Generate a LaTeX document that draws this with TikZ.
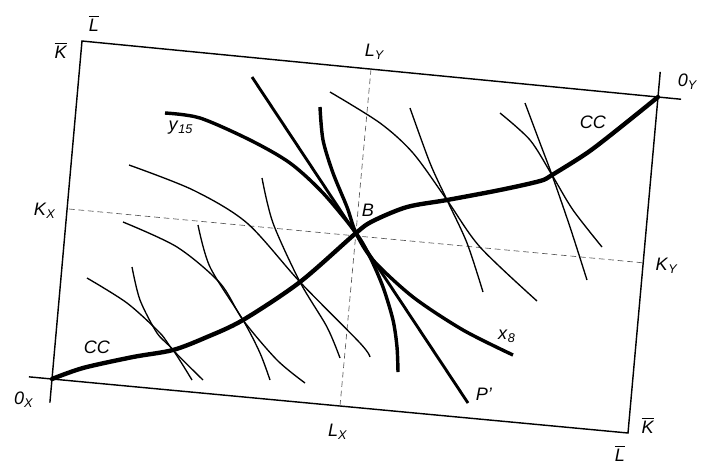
\documentclass[tikz,border=0pt]{standalone}
\usepackage{fontspec}
\setmainfont{Liberation Sans}
\usetikzlibrary{calc}

\newcommand{\sublbl}[2]{\textit{#1}\textsubscript{\textit{#2}}}
\newcommand{\barlbl}[1]{$\overline{\mbox{\textit{#1}}}$}

\begin{document}
\begin{tikzpicture}[x=0.0185cm, y=-0.0185cm, font=\fontsize{9.5}{11}\selectfont,
  box/.style={line width=0.75pt},
  iso/.style={line width=0.7pt},
  isothick/.style={line width=1.8pt},
  ccurve/.style={line width=2.3pt, line cap=round},
  guide/.style={line width=0.35pt, gray!70!black, dash pattern=on 3pt off 2pt}]
  \useasboundingbox (0,0) rectangle (703,473);

  % 盒子四角
  \coordinate (OX) at (52,379);
  \coordinate (OY) at (658,97);
  \coordinate (TL) at (82,41);
  \coordinate (BR) at (628,433);
  \coordinate (B) at (356,233);
  % 边上的点
  \coordinate (KX) at (69,209);
  \coordinate (KY) at (645,263);
  \coordinate (LY) at (371,69);
  \coordinate (LX) at (340,406);

  \draw[box] (TL) -- (OY) -- (BR) -- (OX) -- cycle;
  % 原点处延长
  \draw[box] (OX) -- ($(OX)!-0.04!(BR)$);
  \draw[box] (OX) -- ($(OX)!-0.07!(TL)$);
  \draw[box] (OY) -- ($(OY)!-0.04!(TL)$);
  \draw[box] (OY) -- ($(OY)!-0.075!(BR)$);

  % 虚线 K_X K_Y, L_X L_Y
  \draw[guide] (KX) -- (KY);
  \draw[guide] (LY) -- (LX);

  % 等产量线对
  \draw[iso] plot[smooth] coordinates {(87,278) (127,303) (160,333) (173,350) (203,380)};
  \draw[iso] plot[smooth] coordinates {(132,267) (140,300) (157,333) (173,350) (192,380)};
  \draw[iso] plot[smooth] coordinates {(123,222) (177,247) (220,283) (243,320) (277,360) (305,383)};
  \draw[iso] plot[smooth] coordinates {(198,225) (210,267) (243,320) (260,353) (270,380)};
  \draw[iso] plot[smooth] coordinates {(129,165) (193,190) (247,223) (300,282) (360,343) (370,357)};
  \draw[iso] plot[smooth] coordinates {(262,178) (273,223) (300,282) (327,327) (340,358)};
  \draw[iso] plot[smooth] coordinates {(330,92) (380,123) (413,153) (447,200) (480,247) (537,301)};
  \draw[iso] plot[smooth] coordinates {(410,108) (430,163) (447,200) (467,243) (483,292)};
  \draw[iso] plot[smooth] coordinates {(500,113) (530,140) (552,175) (573,210) (602,247)};
  \draw[iso] plot[smooth] coordinates {(525,103) (540,143) (552,175) (570,227) (587,280)};

  % 过 B 的 y_15, x_8 和 P'
  \draw[isothick] plot[smooth] coordinates {(165,113) (200,118) (250,140) (290,163) (323,193) (B) (370,257) (383,287) (393,320) (397,347) (398,372)};
  \draw[isothick] plot[smooth] coordinates {(320,107) (323,140) (333,173) (347,207) (B) (373,260) (413,297) (463,330) (513,355)};
  \coordinate (P1) at (252,77);
  \coordinate (P2) at (468,403);
  \draw[line width=1.5pt] (P1) -- (P2);

  % 契约曲线 CC
  \draw[ccurve] plot[smooth] coordinates {(OX) (83,368) (133,357) (173,350) (207,337) (243,320) (300,282) (B) (373,221) (407,207) (447,200) (500,190) (540,181) (552,175) (587,153) (617,130) (OY)};

  \node at (94,23) {\barlbl{L}};
  \node at (61,50) {\barlbl{K}};
  \node at (45,211) {\sublbl{K}{X}};
  \node at (181,128) {\sublbl{y}{15}};
  \node at (375,52) {\sublbl{L}{Y}};
  \node at (688,82) {\sublbl{0}{Y}};
  \node at (593,122) {\textit{CC}};
  \node at (368,210) {\textit{B}};
  \node at (97,347) {\textit{CC}};
  \node at (24,400) {\sublbl{0}{X}};
  \node at (338,432) {\sublbl{L}{X}};
  \node at (667,266) {\sublbl{K}{Y}};
  \node at (507,336) {\sublbl{x}{8}};
  \node at (484,394) {\textit{P'}};
  \node at (648,425) {\barlbl{K}};
  \node at (620,453) {\barlbl{L}};
\end{tikzpicture}
\end{document}
